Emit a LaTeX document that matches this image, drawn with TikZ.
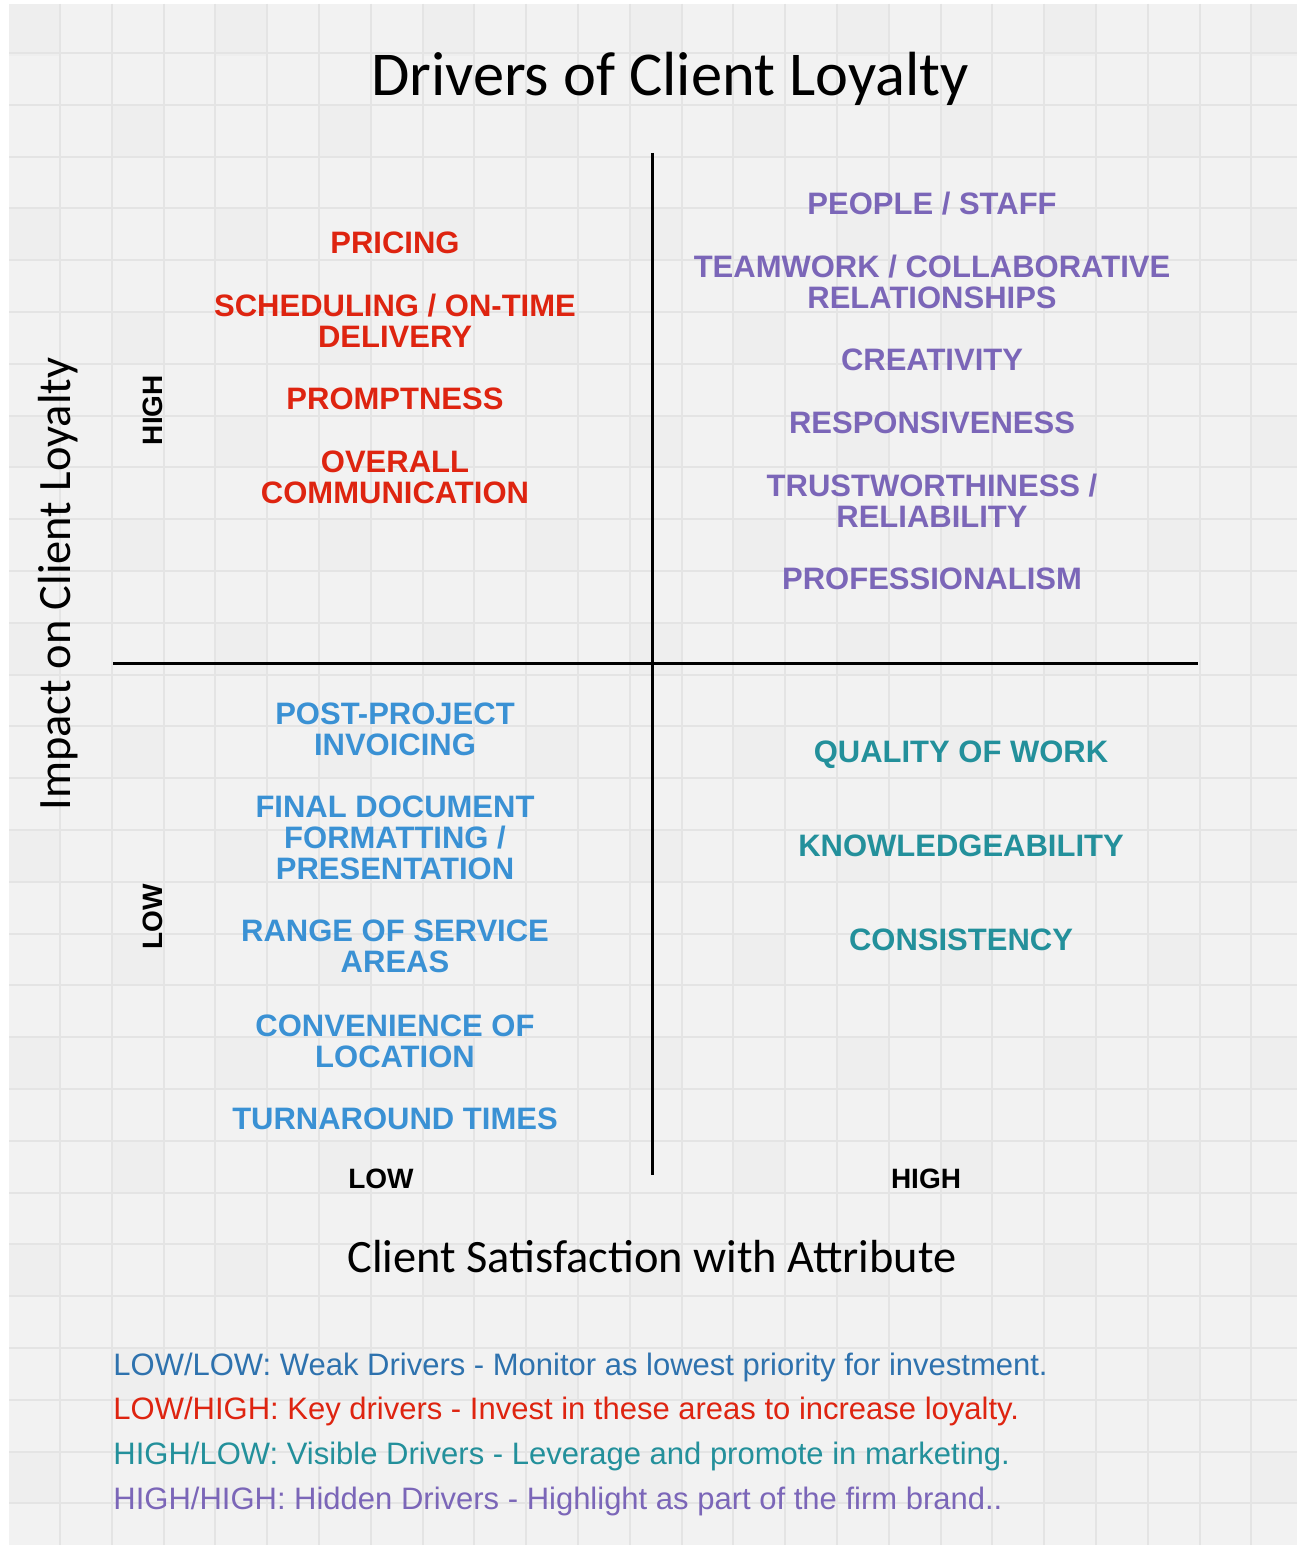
\documentclass[tikz,border=0pt]{standalone}
\usepackage{fontspec}
\setmainfont{Liberation Sans}
\newfontfamily\headfont{Carlito}

\definecolor{keyred}{HTML}{DE2410}
\definecolor{hiddenpurple}{HTML}{7B66B8}
\definecolor{weakblue}{HTML}{3A91D4}
\definecolor{visibleteal}{HTML}{23909B}
\definecolor{legendblue}{HTML}{2E72AE}
\definecolor{gridfill}{HTML}{F2F2F2}
\definecolor{gridshade}{HTML}{EEEEEE}
\definecolor{gridline}{HTML}{E4E4E4}

\tikzset{
    driver/.style={font=\bfseries\fontsize{15.5}{15.5}\selectfont, align=center, inner sep=0pt},
    tick/.style={font=\bfseries\fontsize{14}{14}\selectfont, inner sep=0pt},
    legend/.style={font=\fontsize{15.5}{15.5}\selectfont, anchor=west, inner sep=0pt},
    axislabel/.style={font=\headfont\fontsize{23.2}{23.2}\selectfont, inner sep=0pt}
}

\begin{document}
\begin{tikzpicture}[x=0.5pt, y=-0.5pt]
    \useasboundingbox (0,0) rectangle (1297,1545);

    % Paper with grid
    \fill[white] (0,0) rectangle (1297,1545);
    \fill[gridfill] (9,4) rectangle (1297,1545);
    \foreach \i in {0,...,24}{
        \foreach \j in {0,...,29}{
            \pgfmathtruncatemacro\k{mod(\i*3+\j*5+\i*\j,4)}
            \ifnum\k=0
                \fill[gridshade] ({max(9,8.2+51.8*\i)},{max(4,1.2+51.8*\j)}) rectangle ++(51.8,51.8);
            \fi
        }
    }
    \fill[white] (1297,0) rectangle (1400,1545);
    \foreach \i in {1,...,24}
        \draw[gridline, line width=1pt] (8.2+51.8*\i,4) -- (8.2+51.8*\i,1545);
    \foreach \j in {1,...,29}
        \draw[gridline, line width=1pt] (9,1.2+51.8*\j) -- (1297,1.2+51.8*\j);

    % Title
    \node[font=\headfont\fontsize{31.2}{31.2}\selectfont, inner sep=0pt] (title) at (670,79) {Drivers of Client Loyalty};

    % Axes
    \coordinate (top) at (652,153);
    \coordinate (bottom) at (652,1175);
    \coordinate (left) at (113,663);
    \coordinate (right) at (1198,663);
    \draw[line width=1.5pt] (top) -- (bottom);
    \draw[line width=1.5pt] (left) -- (right);

    % Axis labels
    \node[axislabel, rotate=90] (ylabel) at (58,584) {Impact on Client Loyalty};
    \node[axislabel] (xlabel) at (652,1257) {Client Satisfaction with Attribute};
    \node[tick, rotate=90] (yhigh) at (153,410) {HIGH};
    \node[tick, rotate=90] (ylow) at (153,917) {LOW};
    \node[tick] (xlow) at (381,1179) {LOW};
    \node[tick] (xhigh) at (926,1179) {HIGH};

    % Low satisfaction, high impact
    \node[driver, keyred] (pricing) at (395,243) {PRICING};
    \node[driver, keyred] (scheduling) at (395,320.5) {SCHEDULING / ON-TIME\\DELIVERY};
    \node[driver, keyred] (promptness) at (395,399) {PROMPTNESS};
    \node[driver, keyred] (communication) at (395,477) {OVERALL\\COMMUNICATION};

    % High satisfaction, high impact
    \node[driver, hiddenpurple] (people) at (932,204) {PEOPLE / STAFF};
    \node[driver, hiddenpurple] (teamwork) at (932,281.5) {TEAMWORK / COLLABORATIVE\\RELATIONSHIPS};
    \node[driver, hiddenpurple] (creativity) at (932,360) {CREATIVITY};
    \node[driver, hiddenpurple] (responsiveness) at (932,423) {RESPONSIVENESS};
    \node[driver, hiddenpurple] (trust) at (932,500.5) {TRUSTWORTHINESS /\\RELIABILITY};
    \node[driver, hiddenpurple] (professionalism) at (932,579) {PROFESSIONALISM};

    % Low satisfaction, low impact
    \node[driver, weakblue] (invoicing) at (395,729) {POST-PROJECT\\INVOICING};
    \node[driver, weakblue] (formatting) at (395,838) {FINAL DOCUMENT\\FORMATTING /\\PRESENTATION};
    \node[driver, weakblue] (range) at (395,946.5) {RANGE OF SERVICE\\AREAS};
    \node[driver, weakblue] (location) at (395,1041) {CONVENIENCE OF\\LOCATION};
    \node[driver, weakblue] (turnaround) at (395,1119) {TURNAROUND TIMES};

    % High satisfaction, low impact
    \node[driver, visibleteal] (quality) at (961,755) {QUALITY OF WORK};
    \node[driver, visibleteal] (knowledge) at (961,846) {KNOWLEDGEABILITY};
    \node[driver, visibleteal] (consistency) at (961,940) {CONSISTENCY};

    % Legend
    \node[legend, legendblue] (lowlow) at (113,1367) {LOW/LOW: Weak Drivers - Monitor as lowest priority for investment.};
    \node[legend, keyred] (lowhigh) at (113,1411) {LOW/HIGH: Key drivers - Invest in these areas to increase loyalty.};
    \node[legend, visibleteal] (highlow) at (113,1456) {HIGH/LOW: Visible Drivers - Leverage and promote in marketing.};
    \node[legend, hiddenpurple] (highhigh) at (113,1501) {HIGH/HIGH: Hidden Drivers - Highlight as part of the firm brand..};
\end{tikzpicture}
\end{document}
